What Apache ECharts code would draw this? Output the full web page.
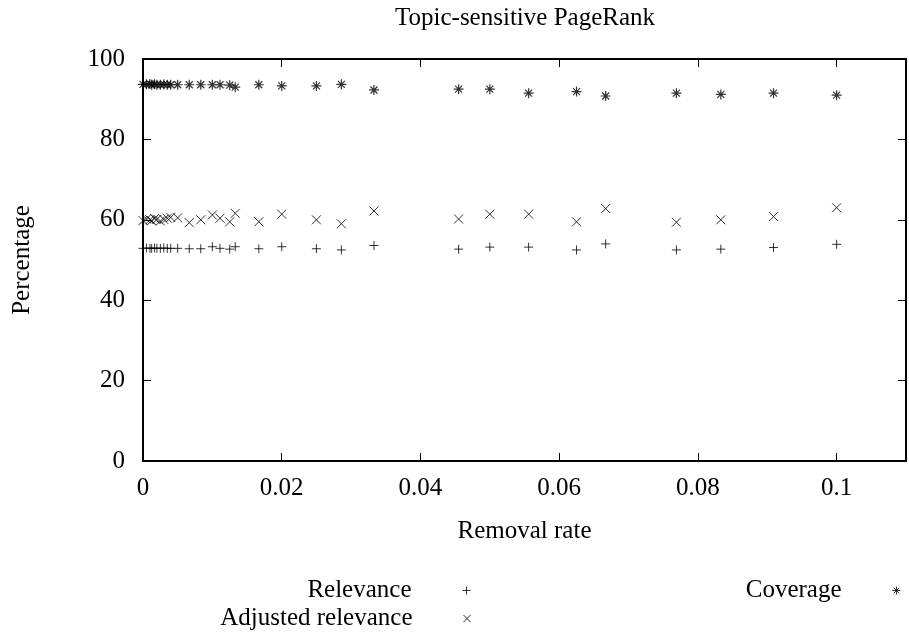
<!DOCTYPE html>
<html>
<head>
<meta charset="utf-8">
<script src="https://cdn.jsdelivr.net/npm/echarts@6/dist/echarts.min.js"></script>
<style>
html,body{margin:0;padding:0;background:#fff;}
#chart{width:909px;height:637px;}
</style>
</head>
<body>
<div id="chart"></div>
<script>
var chartTitle = 'Topic-sensitive PageRank';
var xAxisTitle = 'Removal rate';
var yAxisTitle = 'Percentage';
var seriesNames = ['Relevance', 'Adjusted relevance', 'Coverage'];
var xTickLabels = ['0', '0.02', '0.04', '0.06', '0.08', '0.1'];
var yTickLabels = ['0', '20', '40', '60', '80', '100'];

var removalRate = [0, 0.0005, 0.001, 0.00125, 0.00167, 0.002, 0.0025, 0.003, 0.0035, 0.004, 0.005,
  0.00667, 0.00833, 0.01, 0.0111, 0.0125, 0.0133, 0.0167, 0.02, 0.025, 0.0286, 0.0333,
  0.0455, 0.05, 0.0556, 0.0625, 0.0667, 0.0769, 0.0833, 0.0909, 0.1];
var relevance = [52.9, 53.0, 52.9, 52.9, 53.0, 52.9, 52.9, 53.0, 52.9, 52.9, 52.9,
  52.8, 52.8, 53.3, 52.9, 52.7, 53.3, 52.8, 53.3, 52.8, 52.5, 53.6,
  52.7, 53.2, 53.2, 52.5, 54.0, 52.5, 52.7, 53.1, 53.9];
var adjustedRelevance = [59.8, 60.2, 60.0, 59.8, 60.3, 60.1, 59.7, 60.1, 60.4, 60.6, 60.5,
  59.3, 60.0, 61.2, 60.4, 59.5, 61.6, 59.5, 61.4, 60.0, 59.0, 62.2,
  60.2, 61.4, 61.4, 59.5, 62.8, 59.4, 60.0, 60.8, 63.0];
var coverage = [93.7, 93.7, 93.8, 93.6, 93.7, 93.6, 93.6, 93.7, 93.6, 93.6, 93.6,
  93.6, 93.6, 93.6, 93.6, 93.5, 93.0, 93.6, 93.3, 93.3, 93.7, 92.3,
  92.5, 92.5, 91.5, 91.9, 90.8, 91.5, 91.2, 91.5, 91.0];

function pairs(xs, ys) { return xs.map(function (x, i) { return [x, ys[i]]; }); }

var FONT = 'Liberation Serif';
var FS = 25;
var PLUS = 'path://M0,5L10,5M5,0L5,10';
var CROSS = 'path://M0,0L10,10M10,0L0,10';
var STAR = 'path://M0,5L10,5M5,0L5,10M1.5,1.5L8.5,8.5M8.5,1.5L1.5,8.5';
var markStyle = { color: 'transparent', borderColor: '#000', borderWidth: 1 };
var starStyle = { color: 'transparent', borderColor: '#000', borderWidth: 1.2 };

var axisCommon = {
  axisLine: { show: true, onZero: false, lineStyle: { color: '#000', width: 2 } },
  axisTick: { show: true, inside: true, length: 8, lineStyle: { color: '#000', width: 1 } },
  splitLine: { show: false }
};

function xAxisDef(pos, showLabel) {
  return Object.assign({
    type: 'value', position: pos, min: 0, max: 0.11, interval: 0.02,
    axisLabel: {
      show: showLabel, margin: 15, color: '#000', fontFamily: FONT, fontSize: FS,
      showMaxLabel: false,
      formatter: function (v) { var i = Math.round(v / 0.02); return (Math.abs(v - i * 0.02) < 1e-9 && xTickLabels[i] !== undefined) ? xTickLabels[i] : ''; }
    }
  }, axisCommon);
}
function yAxisDef(pos, showLabel) {
  return Object.assign({
    type: 'value', position: pos, min: 0, max: 100, interval: 20,
    axisLabel: {
      show: showLabel, margin: 18, color: '#000', fontFamily: FONT, fontSize: FS,
      formatter: function (v) { var i = Math.round(v / 20); return yTickLabels[i]; }
    }
  }, axisCommon);
}

var xBottom = xAxisDef('bottom', true);
xBottom.name = xAxisTitle; xBottom.nameLocation = 'middle'; xBottom.nameGap = 58;
xBottom.nameTextStyle = { color: '#000', fontFamily: FONT, fontSize: FS };
var yLeft = yAxisDef('left', true);
yLeft.name = yAxisTitle; yLeft.nameLocation = 'middle'; yLeft.nameGap = 108;
yLeft.nameTextStyle = { color: '#000', fontFamily: FONT, fontSize: FS };

function legendDef(name, icon, right, top, iconSize, style) {
  return {
    data: [{ name: name, icon: icon }],
    right: right, top: top, align: 'right', orient: 'vertical',
    itemWidth: iconSize, itemHeight: iconSize, selectedMode: false,
    itemStyle: style,
    textStyle: { color: '#000', fontFamily: FONT, fontSize: FS, padding: [0, 46, 0, 0] },
    padding: 0
  };
}

var chart = echarts.init(document.getElementById('chart'), null, { renderer: 'canvas' });
chart.setOption({
  animation: false,
  backgroundColor: '#fff',
  grid: { left: 143, right: 3, top: 59, bottom: 176, containLabel: false },
  xAxis: [xBottom, xAxisDef('top', false)],
  yAxis: [yLeft, yAxisDef('right', false)],
  graphic: [{
    type: 'text', x: 525, y: 18,
    style: { text: chartTitle, fill: '#000', font: FS + 'px "Liberation Serif"', align: 'center', verticalAlign: 'middle' }
  }],
  legend: [
    legendDef(seriesNames[0], PLUS, 909 - 471, 578, 8, markStyle),
    legendDef(seriesNames[1], CROSS, 909 - 471, 606, 7, markStyle),
    legendDef(seriesNames[2], STAR, 909 - 901, 578, 8, markStyle)
  ],
  series: [
    { name: seriesNames[0], type: 'scatter', symbol: PLUS, symbolSize: 9, itemStyle: markStyle, data: pairs(removalRate, relevance), silent: true },
    { name: seriesNames[1], type: 'scatter', symbol: CROSS, symbolSize: 9, itemStyle: markStyle, data: pairs(removalRate, adjustedRelevance), silent: true },
    { name: seriesNames[2], type: 'scatter', symbol: STAR, symbolSize: 10, itemStyle: starStyle, data: pairs(removalRate, coverage), silent: true }
  ]
});
</script>
</body>
</html>
